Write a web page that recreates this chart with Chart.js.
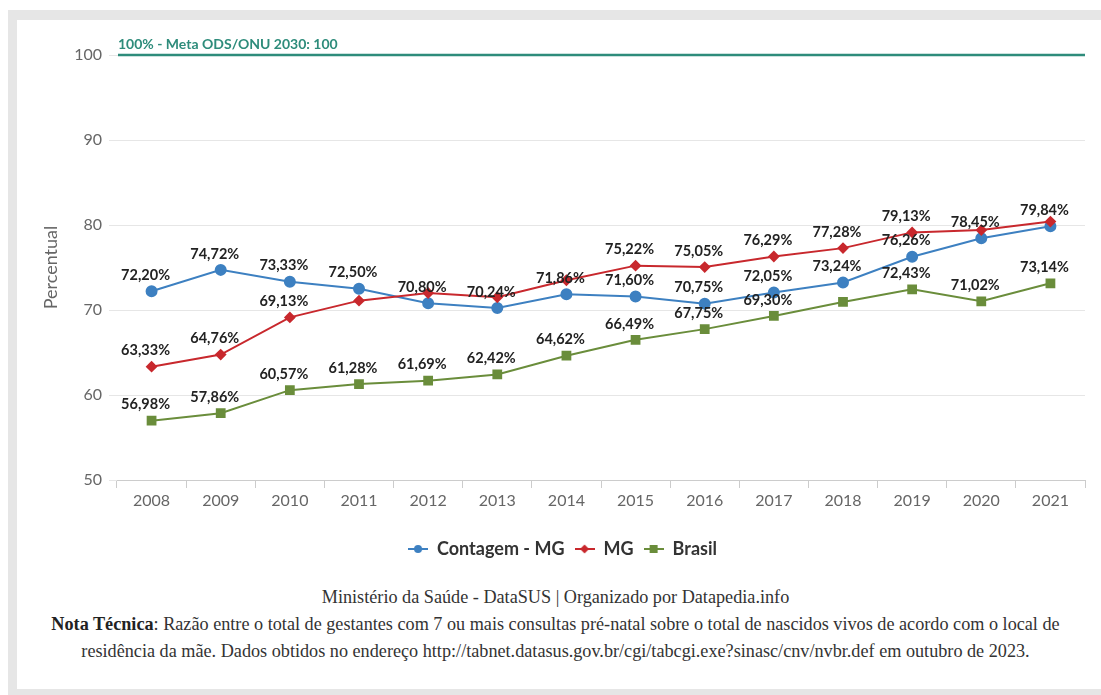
<!DOCTYPE html>
<html lang="pt-BR">
<head>
<meta charset="utf-8">
<title>Consultas pré-natal</title>
<script src="https://cdn.jsdelivr.net/npm/chart.js@4.4.1/dist/chart.umd.min.js"></script>
<style>
  html, body { margin: 0; padding: 0; background: #fff; width: 1101px; height: 695px; overflow: hidden; }
  #frame {
    position: absolute; left: 8px; top: 10px; width: 1200px; height: 669px;
    border: 10px solid #e6e6e6; border-left-width: 9px; border-right: none;
  }
  #wrap { position: absolute; left: 0; top: 0; width: 1101px; height: 580px; }
  #footer {
    position: absolute; left: 10px; right: 0; top: 584px;
    text-align: center; font-family: "Liberation Serif", serif; font-size: 18.2px;
    line-height: 27px; color: #333;
  }
  #footer b { color: #222; }
</style>
</head>
<body>
<div id="frame"></div>
<div id="wrap"><canvas id="chart"></canvas></div>
<div id="footer">
  Ministério da Saúde - DataSUS | Organizado por Datapedia.info<br>
  <b>Nota Técnica</b>: Razão entre o total de gestantes com 7 ou mais consultas pré-natal sobre o total de nascidos vivos de acordo com o local de<br>
  residência da mãe. Dados obtidos no endereço http://tabnet.datasus.gov.br/cgi/tabcgi.exe?sinasc/cnv/nvbr.def em outubro de 2023.
</div>
<script>
const years = ['2008', '2009', '2010', '2011', '2012', '2013', '2014', '2015', '2016', '2017', '2018', '2019', '2020', '2021'];
const contagem = [72.20, 74.72, 73.33, 72.50, 70.80, 70.24, 71.86, 71.60, 70.75, 72.05, 73.24, 76.26, 78.45, 79.84];
const mg = [63.33, 64.76, 69.13, 71.1, 72.0, 71.5, 73.5, 75.22, 75.05, 76.29, 77.28, 79.13, 79.4, 80.4];
const brasil = [56.98, 57.86, 60.57, 61.28, 61.69, 62.42, 64.62, 66.49, 67.75, 69.30, 70.95, 72.43, 71.02, 73.14];

// which value labels are visible in the original (the others are hidden by overlap)
const contagemShown = [1, 1, 1, 1, 1, 1, 1, 1, 1, 1, 1, 1, 1, 1];
const mgShown = [1, 1, 1, 0, 0, 0, 0, 1, 1, 1, 1, 1, 0, 0];
const brasilShown = [1, 1, 1, 1, 1, 1, 1, 1, 1, 1, 0, 1, 1, 1];

const yTicks = [50, 60, 70, 80, 90, 100];
const metaValue = 100;
const metaLabel = '100% - Meta ODS/ONU 2030: 100';

const BLUE = '#3d80c1';
const RED = '#c8282d';
const GREEN = '#6a8d3b';
const TEAL = '#2e8c7b';
const SANS = 'Lato, "Noto Sans", sans-serif';

function fmt(v) {
    return v.toFixed(2).replace('.', ',') + '%';
}

function legendIcon(color, shape) {
    const c = document.createElement('canvas');
    c.width = 20;
    c.height = 12;
    const g = c.getContext('2d');
    g.strokeStyle = color;
    g.fillStyle = color;
    g.lineWidth = 2;
    g.beginPath();
    g.moveTo(0, 6);
    g.lineTo(20, 6);
    g.stroke();
    g.beginPath();
    if (shape === 'circle') {
        g.arc(10, 6, 4, 0, Math.PI * 2);
    } else if (shape === 'diamond') {
        g.moveTo(10, 1.5); g.lineTo(14.5, 6); g.lineTo(10, 10.5); g.lineTo(5.5, 6); g.closePath();
    } else {
        g.rect(6, 2, 8, 8);
    }
    g.fill();
    return c;
}

const icons = [legendIcon(BLUE, 'circle'), legendIcon(RED, 'diamond'), legendIcon(GREEN, 'square')];
const shownByDataset = [contagemShown, mgShown, brasilShown];

// Meta line at 100
const metaLine = {
    id: 'metaLine',
    afterDatasetsDraw(chart) {
        const { ctx, chartArea } = chart;
        const y = chart.scales.y.getPixelForValue(metaValue);
        ctx.save();
        ctx.strokeStyle = TEAL;
        ctx.lineWidth = 2.5;
        ctx.beginPath();
        ctx.moveTo(chartArea.left + 1, y);
        ctx.lineTo(chartArea.right, y);
        ctx.stroke();
        ctx.fillStyle = TEAL;
        ctx.font = 'bold 14px ' + SANS;
        ctx.textAlign = 'left';
        ctx.textBaseline = 'alphabetic';
        ctx.fillText(metaLabel, chartArea.left + 1, y - 6);
        ctx.restore();
    }
};

// Value labels above points
const valueLabels = {
    id: 'valueLabels',
    afterDatasetsDraw(chart) {
        const ctx = chart.ctx;
        ctx.save();
        ctx.font = 'bold 14.5px ' + SANS;
        ctx.fillStyle = '#222';
        ctx.textAlign = 'center';
        ctx.textBaseline = 'middle';
        chart.data.datasets.forEach((ds, i) => {
            const meta = chart.getDatasetMeta(i);
            meta.data.forEach((pt, j) => {
                if (!shownByDataset[i][j]) return;
                ctx.fillText(fmt(ds.data[j]), pt.x - 6, pt.y - 16);
            });
        });
        ctx.restore();
    }
};

const ctx = document.getElementById('chart').getContext('2d');

new Chart(ctx, {
    type: 'line',
    data: {
        labels: years,
        datasets: [
            {
                label: 'Contagem - MG',
                data: contagem,
                borderColor: BLUE,
                backgroundColor: BLUE,
                borderWidth: 2,
                pointStyle: 'circle',
                pointRadius: 5,
                order: 2
            },
            {
                label: 'MG',
                data: mg,
                borderColor: RED,
                backgroundColor: RED,
                borderWidth: 2,
                pointStyle: 'rectRot',
                pointRadius: 4.5,
                order: 1
            },
            {
                label: 'Brasil',
                data: brasil,
                borderColor: GREEN,
                backgroundColor: GREEN,
                borderWidth: 2,
                pointStyle: 'rect',
                pointRadius: 5.5,
                order: 0
            }
        ]
    },
    options: {
        responsive: true,
        maintainAspectRatio: false,
        animation: false,
        layout: {
            padding: { top: 55, right: 16, bottom: 12, left: 40 }
        },
        plugins: {
            tooltip: { enabled: false },
            legend: {
                position: 'bottom',
                labels: {
                    usePointStyle: true,
                    pointStyleWidth: 20,
                    padding: 10,
                    color: '#333',
                    font: { family: SANS, size: 18, weight: 'bold' },
                    sort: (a, b) => a.datasetIndex - b.datasetIndex,
                    generateLabels(chart) {
                        const items = Chart.defaults.plugins.legend.labels.generateLabels(chart);
                        items.forEach(it => { it.pointStyle = icons[it.datasetIndex]; });
                        return items;
                    }
                }
            }
        },
        scales: {
            x: {
                offset: true,
                afterFit(scale) { scale.height = 50; },
                grid: {
                    offset: true,
                    drawOnChartArea: false,
                    drawTicks: true,
                    tickLength: 8,
                    color: '#cccccc'
                },
                border: { display: true, color: '#cccccc' },
                ticks: {
                    color: '#666',
                    padding: 3,
                    font: { family: SANS, size: 16 }
                }
            },
            y: {
                min: 50,
                max: 100,
                afterFit(scale) { scale.width = 77; },
                afterBuildTicks(scale) { scale.ticks = yTicks.map(v => ({ value: v })); },
                grid: {
                    color: '#e6e6e6',
                    tickLength: 8
                },
                border: { display: false },
                ticks: {
                    color: '#666',
                    padding: 7,
                    font: { family: SANS, size: 16 }
                },
                title: {
                    display: true,
                    text: 'Percentual',
                    color: '#666',
                    padding: { top: 0, bottom: 0 },
                    font: { family: SANS, size: 18 }
                }
            }
        }
    },
    plugins: [metaLine, valueLabels]
});
</script>
</body>
</html>
